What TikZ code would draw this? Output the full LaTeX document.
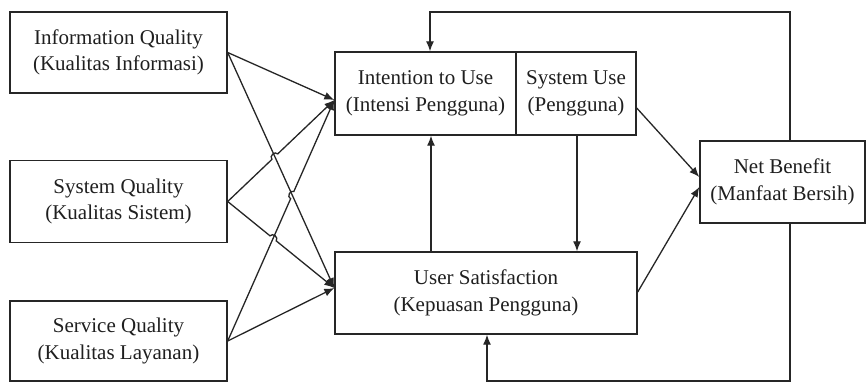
\documentclass[tikz,border=0pt]{standalone}
\usepackage{fontspec}
\setmainfont{Liberation Serif}
\usetikzlibrary{arrows.meta,calc,intersections}
\begin{document}
\begin{tikzpicture}[x=1pt,y=-1pt,
  box/.style={draw=black!85,line width=1.4pt,fill=white,rectangle,inner sep=0pt,
    align=center,text=black!88,font=\fontsize{21}{26.5}\selectfont},
  link/.style={draw=black!85,line width=1.3pt},
  arr/.style={link,-{Latex[length=10pt,width=8pt]}},
  hop/.style={bend left=90,looseness=1.4}]
\useasboundingbox[fill=white] (0,0) rectangle (867,383);

% source constructs
\node[box,minimum width=217pt,minimum height=81pt] (iq) at (118.5,52.5)
  {Information Quality\\(Kualitas Informasi)};
\node[box,minimum width=217pt,minimum height=82pt] (sq) at (118.5,201.5)
  {System Quality\\(Kualitas Sistem)};
\node[box,minimum width=217pt,minimum height=80pt] (svq) at (118.5,341)
  {Service Quality\\(Kualitas Layanan)};

% use / intention split box
\node[box,minimum width=181pt,minimum height=83pt] (int) at (425.5,93.5)
  {Intention to Use\\(Intensi Pengguna)};
\node[box,minimum width=120pt,minimum height=83pt] (use) at (576,93.5)
  {System Use\\(Pengguna)};

\node[box,minimum width=302pt,minimum height=82pt] (us) at (486,293)
  {User Satisfaction\\(Kepuasan Pengguna)};
\node[box,minimum width=165pt,minimum height=82pt] (nb) at (782.5,182)
  {Net Benefit\\(Manfaat Bersih)};

% entry points on the box edges
\coordinate (intIn) at (int.west |- 0,100);
\coordinate (usIn) at (us.west |- 0,288);
\coordinate (useOut) at (use.east |- 0,108);
\coordinate (usOut) at (us.east |- 0,292);
\coordinate (nbInA) at (nb.west |- 0,177);
\coordinate (nbInB) at (nb.west |- 0,187);

% paths used to locate the line hops
\path[name path=pA] (iq.east) -- (usIn);
\path[name path=pB] (sq.east) -- (intIn);
\path[name path=pC] (svq.east) -- (intIn);
\path[name path=pD] (sq.east) -- (usIn);
\path[name intersections={of=pA and pB,by=xAB}];
\path[name intersections={of=pA and pC,by=xAC}];
\path[name intersections={of=pD and pC,by=xDC}];

% quality links
\draw[arr] (iq.east) -- (intIn);
\draw[arr] (iq.east) -- (usIn);
\draw[arr] (sq.east) -- ($(xAB)!4pt!(sq.east)$) to[hop] ($(xAB)!4pt!(intIn)$) -- (intIn);
\draw[arr] (sq.east) -- ($(xDC)!4pt!(sq.east)$) to[hop] ($(xDC)!4pt!(usIn)$) -- (usIn);
\draw[arr] (svq.east) -- ($(xAC)!4pt!(svq.east)$) to[hop] ($(xAC)!4pt!(intIn)$) -- (intIn);
\draw[arr] (svq.east) -- (usIn);

% links between the middle constructs
\draw[arr] (us.north -| 431,0) -- (int.south -| 431,0);
\draw[arr] (use.south -| 577,0) -- (us.north -| 577,0);
\draw[arr] (useOut) -- (nbInA);
\draw[arr] (usOut) -- (nbInB);

% feedback loops from net benefit
\coordinate (topR) at (790,12);
\coordinate (topL) at (430,12);
\coordinate (botR) at (790,381);
\coordinate (botL) at (487,381);
\draw[arr] (nb.north -| topR) -- (topR) -- (topL) -- (int.north -| topL);
\draw[arr] (nb.south -| botR) -- (botR) -- (botL) -- (us.south -| botL);
\end{tikzpicture}
\end{document}
